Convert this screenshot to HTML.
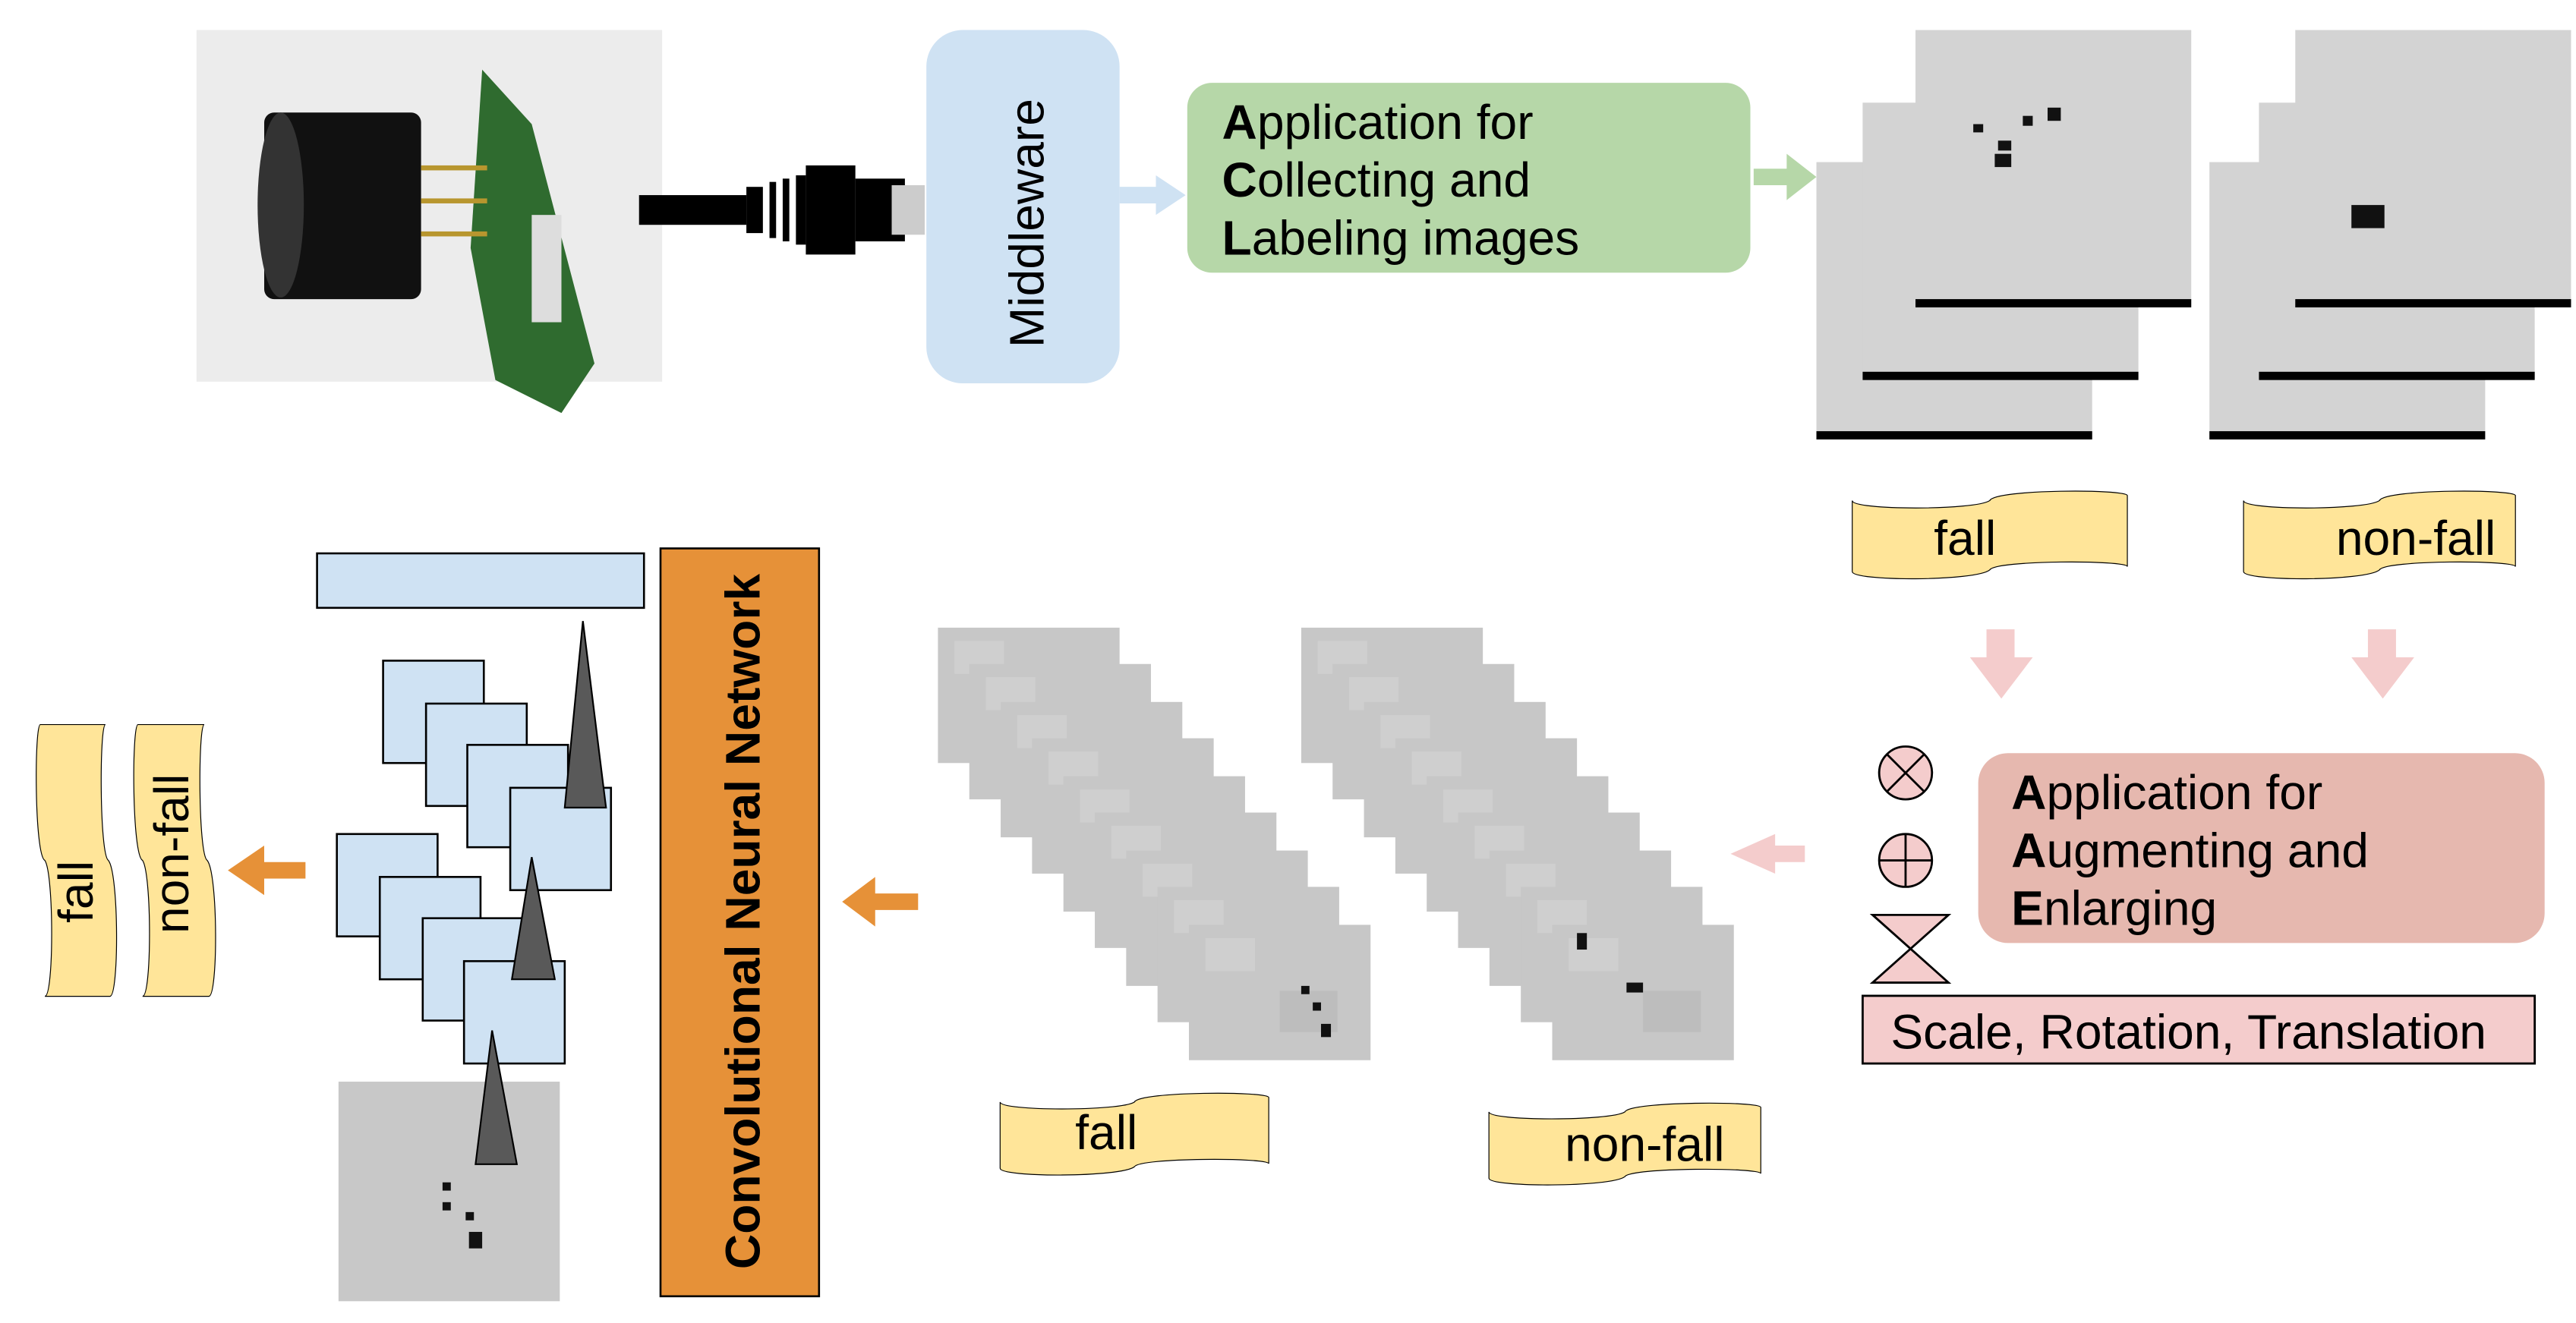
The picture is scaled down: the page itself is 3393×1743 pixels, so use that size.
<!DOCTYPE html>
<html><head><meta charset="utf-8"><style>html,body{margin:0;padding:0;background:#fff}svg{display:block}text{font-family:"Liberation Sans",sans-serif}</style></head>
<body>
<svg width="3393" height="1743" viewBox="0 0 1560 801" xmlns="http://www.w3.org/2000/svg">
<defs>
<symbol id="ban" viewBox="0 0 100 60" preserveAspectRatio="none">
<path d="M1,10 C1,16 45,16 50,10 C52,3 99,3 99,7 L99,50 C99,46 52,46 50,52 C45,59 1,59 1,53 Z" fill="#ffe599" stroke="#000" stroke-width="1.2" vector-effect="non-scaling-stroke"/>
</symbol>
<g id="gimg">
<rect width="110" height="82" fill="#c7c7c7"/>
<rect x="10" y="8" width="30" height="20" fill="#cfcfcf"/>
<rect x="55" y="40" width="35" height="25" fill="#bdbdbd"/>
</g>
<g id="bimg">
<rect width="167" height="167" fill="#d3d3d3"/>
<rect x="0" y="163" width="167" height="5" fill="#000"/>
</g>
</defs>
<!-- Photo -->
<rect x="119" y="18" width="282" height="213" fill="#ececec"/>
<rect x="160" y="68" width="95" height="113" rx="6" fill="#111"/>
<ellipse cx="170" cy="124" rx="14" ry="56" fill="#333"/>
<polygon points="292,42 322,75 360,220 340,250 300,230 285,150" fill="#2f6b2f"/>
<rect x="322" y="130" width="18" height="65" fill="#ddd"/>
<rect x="255" y="100" width="40" height="3" fill="#b8962e"/>
<rect x="255" y="120" width="40" height="3" fill="#b8962e"/>
<rect x="255" y="140" width="40" height="3" fill="#b8962e"/>
<!-- cable -->
<rect x="387" y="118" width="65" height="18" fill="#000"/>
<rect x="452" y="113" width="10" height="28" fill="#000"/>
<rect x="466" y="110" width="4" height="34" fill="#000"/>
<rect x="474" y="108" width="4" height="38" fill="#000"/>
<rect x="482" y="106" width="6" height="42" fill="#000"/>
<rect x="488" y="100" width="30" height="54" fill="#000"/>
<rect x="518" y="108" width="30" height="38" fill="#000"/>
<rect x="540" y="112" width="20" height="30" fill="#ccc"/>
<!-- Middleware -->
<rect x="561" y="18" width="117" height="214" rx="22" fill="#cfe2f3"/>
<text transform="translate(632,135) rotate(-90)" text-anchor="middle" font-size="29.5">Middleware</text>
<polygon points="678,113 700,113 700,106 718,118 700,130 700,123 678,123" fill="#cfe2f3"/>
<!-- Green -->
<rect x="719" y="50" width="341" height="115" rx="15" fill="#b6d7a8"/>
<text font-size="29.5"><tspan x="740" y="84"><tspan font-weight="bold">A</tspan>pplication for</tspan><tspan x="740" y="119"><tspan font-weight="bold">C</tspan>ollecting and</tspan><tspan x="740" y="154"><tspan font-weight="bold">L</tspan>abeling images</tspan></text>
<polygon points="1062,102 1082,102 1082,93 1100,107 1082,121 1082,112 1062,112" fill="#b6d7a8"/>
<!-- top stacks -->
<use href="#bimg" x="1100" y="98"/>
<use href="#bimg" x="1128" y="62"/>
<use href="#bimg" x="1160" y="18"/>
<g fill="#111"><rect x="1195" y="75" width="6" height="5"/><rect x="1210" y="85" width="8" height="6"/><rect x="1225" y="70" width="6" height="6"/><rect x="1240" y="65" width="8" height="8"/><rect x="1208" y="93" width="10" height="8"/></g>
<use href="#bimg" x="1338" y="98"/>
<use href="#bimg" x="1368" y="62"/>
<use href="#bimg" x="1390" y="18"/>
<rect x="1424" y="124" width="20" height="14" fill="#111"/>
<!-- banners top right -->
<use href="#ban" x="1120" y="293" width="170" height="60"/>
<text x="1190" y="336" text-anchor="middle" font-size="29.5">fall</text>
<use href="#ban" x="1357" y="293" width="168" height="60"/>
<text x="1463" y="336" text-anchor="middle" font-size="29.5">non-fall</text>
<!-- pink down arrows -->
<polygon points="1203,381 1220,381 1220,398 1231,398 1212,423 1193,398 1203,398" fill="#f4cccc"/>
<polygon points="1434,381 1451,381 1451,398 1462,398 1443,423 1424,398 1434,398" fill="#f4cccc"/>
<!-- augment -->
<rect x="1198" y="456" width="343" height="115" rx="18" fill="#e6b8af"/>
<text font-size="29.5"><tspan x="1218" y="490"><tspan font-weight="bold">A</tspan>pplication for</tspan><tspan x="1218" y="525"><tspan font-weight="bold">A</tspan>ugmenting and</tspan><tspan x="1218" y="560"><tspan font-weight="bold">E</tspan>nlarging</tspan></text>
<g fill="#f4cccc" stroke="#000" stroke-width="1.3">
<circle cx="1154" cy="468" r="16"/>
<line x1="1143" y1="457" x2="1165" y2="479"/><line x1="1165" y1="457" x2="1143" y2="479"/>
<circle cx="1154" cy="521" r="16"/>
<line x1="1138" y1="521" x2="1170" y2="521"/><line x1="1154" y1="505" x2="1154" y2="537"/>
<polygon points="1134,554 1180,554 1134,595 1180,595"/>
<rect x="1128" y="603" width="407" height="41"/>
</g>
<text x="1145" y="635" font-size="29.5">Scale, Rotation, Translation</text>
<polygon points="1093,512 1075,512 1075,505 1048,517 1075,529 1075,522 1093,522" fill="#f4cccc"/>
<!-- diagonal stacks -->
<g>
<use href="#gimg" x="568" y="380"/><use href="#gimg" x="587" y="402"/><use href="#gimg" x="606" y="425"/><use href="#gimg" x="625" y="447"/><use href="#gimg" x="644" y="470"/><use href="#gimg" x="663" y="492"/><use href="#gimg" x="682" y="515"/><use href="#gimg" x="701" y="537"/><use href="#gimg" x="720" y="560"/>
<g fill="#111"><rect x="788" y="597" width="5" height="5"/><rect x="795" y="607" width="5" height="5"/><rect x="800" y="620" width="6" height="8"/></g>
<use href="#gimg" x="788" y="380"/><use href="#gimg" x="807" y="402"/><use href="#gimg" x="826" y="425"/><use href="#gimg" x="845" y="447"/><use href="#gimg" x="864" y="470"/><use href="#gimg" x="883" y="492"/><use href="#gimg" x="902" y="515"/><use href="#gimg" x="921" y="537"/><use href="#gimg" x="940" y="560"/>
<rect x="955" y="565" width="6" height="10" fill="#111"/><rect x="985" y="595" width="10" height="6" fill="#111"/>
</g>
<use href="#ban" x="604" y="658" width="166" height="56"/>
<text x="670" y="696" text-anchor="middle" font-size="29.5">fall</text>
<use href="#ban" x="900" y="664" width="168" height="56"/>
<text x="996" y="703" text-anchor="middle" font-size="29.5">non-fall</text>
<!-- orange arrows -->
<polygon points="556,541 530,541 530,531 510,546 530,561 530,551 556,551" fill="#e69138"/>
<polygon points="185,522 160,522 160,512 138,527 160,542 160,532 185,532" fill="#e69138"/>
<!-- CNN -->
<rect x="400" y="332" width="96" height="453" fill="#e69138" stroke="#000" stroke-width="1.2"/>
<text transform="translate(460,558) rotate(-90)" text-anchor="middle" font-size="29.5" font-weight="bold">Convolutional Neural Network</text>
<!-- layers -->
<g fill="#cfe2f3" stroke="#000" stroke-width="1.2">
<rect x="192" y="335" width="198" height="33"/>
<rect x="232" y="400" width="61" height="62"/><rect x="258" y="426" width="61" height="62"/><rect x="283" y="451" width="61" height="62"/><rect x="309" y="477" width="61" height="62"/>
<rect x="204" y="505" width="61" height="62"/><rect x="230" y="531" width="61" height="62"/><rect x="256" y="556" width="61" height="62"/><rect x="281" y="582" width="61" height="62"/>
</g>
<rect x="205" y="655" width="134" height="133" fill="#c8c8c8"/>
<g fill="#111"><rect x="268" y="716" width="5" height="5"/><rect x="268" y="728" width="5" height="5"/><rect x="282" y="734" width="5" height="5"/><rect x="284" y="746" width="8" height="10"/></g>
<g fill="#595959" stroke="#000" stroke-width="1">
<polygon points="353,376 342,489 367,489"/>
<polygon points="322,519 310,593 336,593"/>
<polygon points="298,624 288,705 313,705"/>
</g>
<!-- left output banners -->
<g transform="translate(18,605) rotate(-90)"><use href="#ban" x="0" y="0" width="168" height="55"/></g>
<g transform="translate(77,605) rotate(-90)"><use href="#ban" x="0" y="0" width="168" height="56"/></g>
<text transform="translate(56,540) rotate(-90)" text-anchor="middle" font-size="29.5">fall</text>
<text transform="translate(114,517) rotate(-90)" text-anchor="middle" font-size="29.5">non-fall</text>
</svg>
</body></html>
